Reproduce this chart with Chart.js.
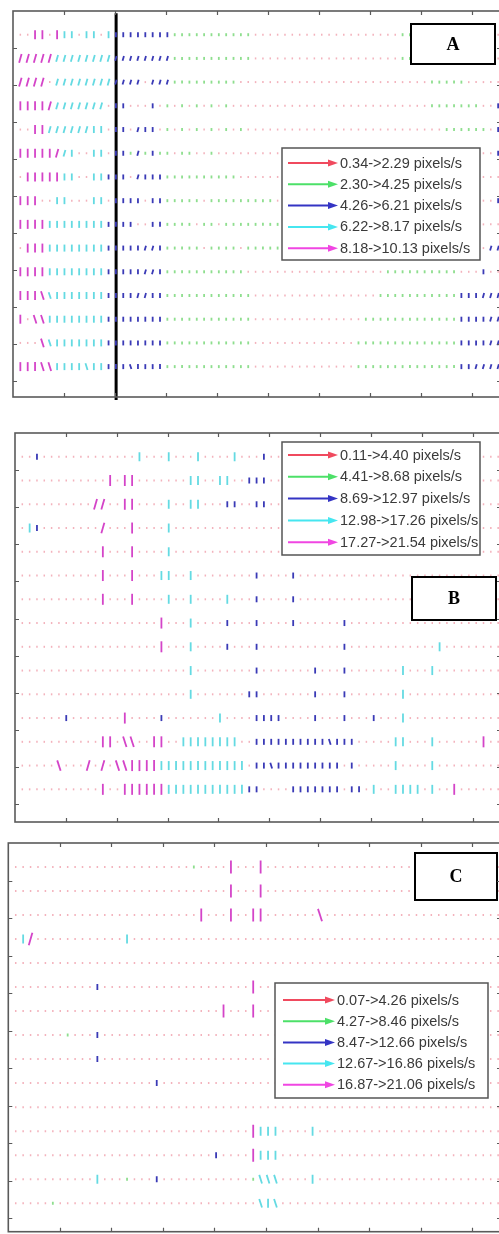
<!DOCTYPE html>
<html>
<head>
<meta charset="utf-8">
<script src="https://cdn.jsdelivr.net/npm/chart.js@4/dist/chart.umd.min.js"></script>
<style>
  html, body { margin: 0; padding: 0; background: #fff; }
  body { position: relative; width: 499px; height: 1234px; overflow: hidden; }
  canvas { position: absolute; left: 0; }
</style>
</head>
<body>
<canvas id="panelA" width="520" height="405" style="top:0px"></canvas>
<canvas id="panelB" width="520" height="425" style="top:405px"></canvas>
<canvas id="panelC" width="520" height="410" style="top:830px"></canvas>
<script>
// speed classes: red, green, blue, cyan, magenta
const fieldColors = ['#f3b2bc', '#8ede8e', '#3a3ab6', '#64dae2', '#d444c8'];
const arrowColors = ['#f04a5e', '#4ce068', '#3434c4', '#46e6f0', '#f046e2'];

const xTicks = [50, 100, 150, 200, 250, 300, 350, 400, 450];
const yTicks = [50, 100, 150, 200, 250, 300, 350, 400, 450, 500];

// velocity grid spacing (image px)
const colStep = 7.2;
const rowStep = 32;

// one char per grid cell: 1-5 = class (vertical), a-e = leaning "/", A-E = leaning "\"
const rowsA = [
  '1155154414' + '4143333333' + '3222222222' + '2211111111' + '1111111111' + '1122222221' + '111111',
  'eeeeeddddd' + 'dddccccccc' + 'c222222222' + '2211111111' + '1111111111' + '1122222211' + '111111',
  'eeee1ddddd' + 'dddcccc1cc' + 'c222222222' + '1111111111' + '1111111111' + '1111112222' + '211111',
  '5555eddddd' + 'dd13311131' + '2121212121' + '1111111111' + '1111111111' + '1111112222' + '222113',
  '1155dddddd' + '441331c331' + '2121212121' + '2111111111' + '1111111111' + '1111111122' + '222213',
  '55555ed411' + '441332c232' + '2122112111' + '1111111111' + '1111111111' + '1111111111' + '111113',
  '1555554411' + '443331c333' + '2222222222' + '1111111111' + '1111111111' + '1111111111' + '111111',
  '5551144111' + '4413333133' + '2222212222' + '2222211111' + '1111111111' + '1111111111' + '111113',
  '5555444444' + '4433331133' + '2222122122' + '2222221111' + '1111111111' + '1111111111' + '111111',
  '1555444444' + '4433333cc3' + '2222212222' + '1222221111' + '1111111111' + '1111111111' + '1111cc',
  '5555444444' + '4433333cc3' + '2222222222' + '2111111111' + '1111111111' + '2222222222' + '111311',
  '555ED44444' + '443333cc33' + '2222222222' + '2211111111' + '1111111112' + '2222222222' + '333ccc',
  '51EE444444' + '4433333333' + '2222222222' + '2211111111' + '1111111222' + '2222222222' + '3333cc',
  '111ED44444' + '4433333333' + '2222222222' + '2211111111' + '1111112222' + '2222222222' + '3333cc',
  '555EE4444D' + '44333C3333' + '2222222222' + '2211111111' + '1111112222' + '2222222222' + '33cccc'
];
const cutLineA = [101];
const legendA = ['0.34->2.29 pixels/s', '2.30->4.25 pixels/s', '4.26->6.21 pixels/s', '6.22->8.17 pixels/s', '8.18->10.13 pixels/s'];

const rowsB = [
  '1131111111' + '1111114111' + '4111411114' + '1113111111' + '1111111111' + '1111111111' + '111111',
  '1111111111' + '1151551111' + '1114411441' + '1333111111' + '1111111111' + '1111111111' + '111111',
  '1111111111' + 'ee11551111' + '4114411133' + '1133111111' + '1111111111' + '1111111111' + '111111',
  '1431111111' + '1e11151111' + '4111111111' + '1111111111' + '1111111111' + '1111111111' + '111111',
  '1111111111' + '1511151111' + '4111111111' + '1111111111' + '1111111111' + '1111111111' + '111111',
  '1111111111' + '1511151114' + '4114111111' + '1131111311' + '1111111111' + '1111111111' + '111111',
  '1111111111' + '1511151111' + '4114111141' + '1131111311' + '1111111111' + '1111111111' + '111111',
  '1111111111' + '1111111115' + '1114111131' + '1131111311' + '1111311111' + '1111111111' + '111111',
  '1111111111' + '1111111115' + '1114111131' + '1131111111' + '1111311111' + '1111111411' + '111111',
  '1111111111' + '1111111111' + '1114111111' + '1131111111' + '3111311111' + '1141114111' + '111111',
  '1111111111' + '1111111111' + '1114111111' + '1331111111' + '3111311111' + '1141111111' + '111111',
  '1111113111' + '1111511113' + '1111111411' + '1133331111' + '3111311131' + '1141111111' + '111111',
  '1111111111' + '1551EE1155' + '1144444444' + '1133333333' + '33C3331111' + '1441114111' + '111511',
  '11111E111e' + '1e1EE55554' + '4444444444' + '4133C33333' + '3333131111' + '1411114111' + '111111',
  '1111111111' + '1511555555' + '4444444444' + '4331111333' + '3333133141' + '1444414115' + '111111'
];
const legendB = ['0.11->4.40 pixels/s', '4.41->8.68 pixels/s', '8.69->12.97 pixels/s', '12.98->17.26 pixels/s', '17.27->21.54 pixels/s'];

const rowsC = [
  '1111111111' + '1111111111' + '1111211115' + '1115111111' + '1111111111' + '1111111111' + '111111',
  '1111111111' + '1111111111' + '1111111115' + '1115111111' + '1111111111' + '1111111111' + '111111',
  '1111111111' + '1111111111' + '1111151115' + '1155111111' + '1E11111111' + '1111111111' + '111111',
  '14e1111111' + '1111141111' + '1111111111' + '1111111111' + '1111111111' + '1111111111' + '111111',
  '1111111111' + '1111111111' + '1111111111' + '1111111111' + '1111111111' + '1111111111' + '111111',
  '1111111111' + '1311111111' + '1111111111' + '1151111111' + '1111111111' + '1111111111' + '111111',
  '1111111111' + '1111111111' + '1111111151' + '1151111111' + '1111111111' + '1111111111' + '111111',
  '1111111211' + '1311111111' + '1111111111' + '1111111111' + '1111111111' + '1111111111' + '111111',
  '1111111111' + '1311111111' + '1111111111' + '1111111111' + '1111111111' + '1111111111' + '111111',
  '1111111111' + '1111111113' + '1111111111' + '1111111111' + '1111111111' + '1111111111' + '111111',
  '1111111111' + '1111111111' + '1111111111' + '1111111111' + '1111111111' + '1111111111' + '111111',
  '1111111111' + '1111111111' + '1111111111' + '1154441111' + '4111111111' + '1111111111' + '111111',
  '1111111111' + '1111111111' + '1111111311' + '1154441111' + '1111111111' + '1111111111' + '111111',
  '1111111111' + '1411121113' + '1111111111' + '112DDD1111' + '4111111111' + '1111111111' + '111111',
  '1111121111' + '1111111111' + '1111111111' + '111D4D1111' + '1111111111' + '1111111111' + '111111'
];
const legendC = ['0.07->4.26 pixels/s', '4.27->8.46 pixels/s', '8.47->12.66 pixels/s', '12.67->16.86 pixels/s', '16.87->21.06 pixels/s'];

// turn the row strings into one point list per speed class
function parseField(rows) {
  const sets = [[], [], [], [], []];
  rows.forEach((row, r) => {
    [...row].forEach((ch, i) => {
      let k, rot = 90;
      if (ch >= '1' && ch <= '5') k = ch.charCodeAt(0) - 49;
      else if (ch >= 'a' && ch <= 'e') { k = ch.charCodeAt(0) - 97; rot = 106; }
      else if (ch >= 'A' && ch <= 'E') { k = ch.charCodeAt(0) - 65; rot = 72; }
      else return;
      sets[k].push({ x: colStep * (i + 1), y: rowStep * (r + 1), rot });
    });
  });
  return sets;
}

function decor(cfg) {
  return {
    id: 'decor',
    afterDatasetsDraw(chart) {
      const ctx = chart.ctx;
      const L = cfg.legend;
      ctx.save();
      // legend
      ctx.fillStyle = '#fff';
      ctx.fillRect(L.x, L.y, L.w, L.h);
      ctx.strokeStyle = '#555';
      ctx.lineWidth = 1.5;
      ctx.strokeRect(L.x, L.y, L.w, L.h);
      cfg.entries.forEach((txt, k) => {
        const y = L.y + L.first + k * L.step;
        const x0 = L.x + L.a0, x1 = L.x + L.a1;
        ctx.strokeStyle = arrowColors[k];
        ctx.lineWidth = 2;
        ctx.beginPath();
        ctx.moveTo(x0, y);
        ctx.lineTo(x1 - 6, y);
        ctx.stroke();
        ctx.fillStyle = arrowColors[k];
        ctx.beginPath();
        ctx.moveTo(x1, y);
        ctx.lineTo(x1 - 10, y - 3.5);
        ctx.lineTo(x1 - 10, y + 3.5);
        ctx.closePath();
        ctx.fill();
        ctx.fillStyle = '#3a3a3a';
        ctx.font = '14.5px "Liberation Sans", Arial, sans-serif';
        ctx.textBaseline = 'middle';
        ctx.fillText(txt, L.x + L.t, y + 0.5);
      });
      // panel letter
      const B = cfg.tag;
      ctx.fillStyle = '#fff';
      ctx.fillRect(B.x, B.y, B.w, B.h);
      ctx.strokeStyle = '#000';
      ctx.lineWidth = 2;
      ctx.strokeRect(B.x, B.y, B.w, B.h);
      ctx.fillStyle = '#000';
      ctx.font = 'bold 18px "Liberation Serif", "Times New Roman", serif';
      ctx.textAlign = 'center';
      ctx.textBaseline = 'middle';
      ctx.fillText(B.text, B.x + B.w / 2, B.y + B.h / 2 + 1);
      ctx.restore();
    },
    afterDraw(chart) {
      const { ctx, chartArea: a, scales } = chart;
      ctx.save();
      ctx.strokeStyle = '#5a5a5a';
      ctx.lineWidth = 1.6;
      ctx.strokeRect(a.left, a.top, a.right - a.left, a.bottom - a.top);
      ctx.lineWidth = 1.2;
      ctx.beginPath();
      xTicks.forEach(v => {
        const px = Math.round(scales.x.getPixelForValue(v)) + 0.5;
        ctx.moveTo(px, a.top); ctx.lineTo(px, a.top + 4);
        ctx.moveTo(px, a.bottom); ctx.lineTo(px, a.bottom - 4);
      });
      yTicks.forEach(v => {
        const py = Math.round(scales.y.getPixelForValue(v)) + 0.5;
        ctx.moveTo(a.left, py); ctx.lineTo(a.left + 4, py);
        ctx.moveTo(a.right, py); ctx.lineTo(a.right - 4, py);
      });
      ctx.stroke();
      ctx.restore();
    }
  };
}

function makePanel(id, rows, cfg) {
  const sets = parseField(rows);
  const datasets = sets.map((pts, k) => ({
    data: pts,
    pointStyle: 'line',
    pointRadius: cfg.lengths[k] / 2,
    pointBorderWidth: k === 0 ? 1.5 : 1.8,
    pointBorderColor: fieldColors[k],
    pointBackgroundColor: fieldColors[k],
    pointRotation: c => (c.raw ? c.raw.rot : 90),
    showLine: false
  }));
  (cfg.cuts || []).forEach(xv => {
    datasets.push({
      type: 'line',
      data: [{ x: xv, y: 3 }, { x: xv, y: cfg.yMax + 4 }],
      borderColor: '#000',
      borderWidth: 3,
      pointRadius: 0,
      clip: false
    });
  });
  return new Chart(document.getElementById(id), {
    type: 'scatter',
    data: { datasets },
    options: {
      responsive: false,
      animation: false,
      devicePixelRatio: 1,
      events: [],
      layout: { padding: cfg.pad },
      plugins: { legend: { display: false }, tooltip: { enabled: false } },
      scales: {
        x: { type: 'linear', display: false, min: 0, max: 478 },
        y: { type: 'linear', display: false, min: 0, max: cfg.yMax, reverse: true }
      }
    },
    plugins: [decor(cfg)]
  });
}

makePanel('panelA', rowsA, {
  pad: { left: 13, top: 11, right: 19, bottom: 8 },
  yMax: 521,
  lengths: [2, 3, 5, 7, 9],
  cuts: cutLineA,
  entries: legendA,
  legend: { x: 282, y: 148, w: 198, h: 112, first: 15, step: 21.3, a0: 6, a1: 56, t: 58 },
  tag: { x: 411, y: 24, w: 84, h: 40, text: 'A' }
});

makePanel('panelB', rowsB, {
  pad: { left: 15, top: 28, right: 19, bottom: 8 },
  yMax: 524,
  lengths: [2, 3, 6, 9, 11],
  entries: legendB,
  legend: { x: 282, y: 37, w: 198, h: 113, first: 13, step: 21.8, a0: 6, a1: 56, t: 58 },
  tag: { x: 412, y: 172, w: 84, h: 43, text: 'B' }
});

makePanel('panelC', rowsC, {
  pad: { left: 5, top: 13, right: 19, bottom: 4 },
  yMax: 518,
  lengths: [2, 3, 6, 9, 13],
  entries: legendC,
  legend: { x: 275, y: 153, w: 213, h: 115, first: 17, step: 21.2, a0: 8, a1: 60, t: 62 },
  tag: { x: 415, y: 23, w: 82, h: 47, text: 'C' }
});
</script>
</body>
</html>
